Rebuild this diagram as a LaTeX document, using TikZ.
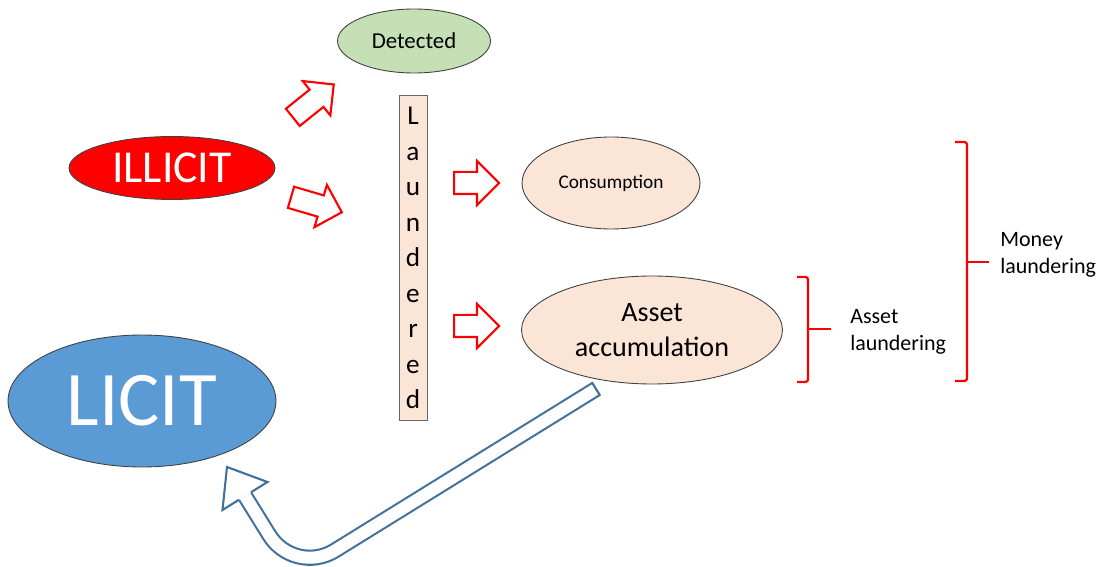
\documentclass[tikz,border=0pt]{standalone}
\usepackage{fontspec}
\setmainfont{Carlito}
\usetikzlibrary{shapes.geometric,shapes.arrows,positioning}

\definecolor{illicitred}{HTML}{FF0000}
\definecolor{licitblue}{HTML}{5B9BD5}
\definecolor{detgreen}{HTML}{C5E0B4}
\definecolor{peach}{HTML}{FBE5D6}
\definecolor{edgeblue}{HTML}{41719C}

\begin{document}
\begin{tikzpicture}[x=0.02cm,y=-0.02cm,
    oval/.style={ellipse,draw=black!75,line width=0.5pt,inner sep=0pt},
    redarrow/.style={single arrow,draw=red,line width=1.2pt,fill=white,inner xsep=0pt,inner ysep=0.2cm,
      single arrow head extend=0.22cm,anchor=tail},
    bracket/.style={red,line width=1.3pt,rounded corners=1.5pt},
    sidelabel/.style={anchor=west,align=left,inner sep=0pt,font=\fontsize{12.5}{15.5}\selectfont}]
    \useasboundingbox (0,0) rectangle (1103,567);
    % ovals
    \node[oval,fill=detgreen,minimum width=3.06cm,minimum height=1.28cm,font=\fontsize{13}{15}\selectfont] (detected) at (414,41) {Detected};
    \node[oval,fill=illicitred,text=white,minimum width=4.12cm,minimum height=1.26cm,font=\fontsize{26}{30}\selectfont] (illicit) at (172,168) {ILLICIT};
    \node[oval,fill=licitblue,text=white,minimum width=5.36cm,minimum height=2.64cm,font=\fontsize{44}{50}\selectfont] (licit) at (142,401) {LICIT};
    \node[oval,fill=peach,minimum width=3.56cm,minimum height=1.84cm,font=\fontsize{11}{13}\selectfont] (consumption) at (611,183) {Consumption};
    \node[oval,fill=peach,minimum width=5.22cm,minimum height=2.16cm,align=center,font=\fontsize{16}{19.8}\selectfont] (asset) at (652,330) {Asset\\accumulation};
    % vertical box
    \node[draw=black!60,fill=peach,minimum width=0.56cm,minimum height=6.5cm,inner sep=0pt,align=center,
      font=\fontsize{15.5}{20.2}\selectfont] (laundered) at (413,258) {L\\a\\u\\n\\d\\e\\r\\e\\d};
    % red block arrows
    \node[redarrow,rotate=38.8,minimum height=1.05cm] (todetected) at (292,118) {};
    \node[redarrow,rotate=-16.4,minimum height=1.06cm] (tolaundered) at (290,197) {};
    \node[redarrow,minimum height=0.9cm] (toconsumption) at (453,183) {};
    \node[redarrow,minimum height=0.9cm] (toasset) at (453,326) {};
    % brackets
    \draw[bracket] (797,277) -- (808,277) -- (808,382) -- (797,382);
    \draw[bracket] (808,329) -- (831,329);
    \draw[bracket] (955,142) -- (967,142) -- (967,381) -- (955,381);
    \draw[bracket] (967,262) -- (989,262);
    \node[sidelabel] (assetlabel) at (850,332) {Asset\\laundering};
    \node[sidelabel] (moneylabel) at (1000,255) {Money\\laundering};
    % blue return arrow
    \coordinate (tailc) at (596,389);
    \coordinate (bend) at (294.4,575.6);
    \coordinate (headbase) at (245,496);
    \draw[edgeblue,line width=1.2pt,double=white,double distance=0.24cm,rounded corners=0.95cm]
      (tailc) -- (bend) -- (headbase);
    \draw[edgeblue,line width=1.2pt] (591.8,382.2) -- (600.2,395.8);
    \draw[edgeblue,line width=1.2pt,fill=white] (251,492.3) -- (267.5,482) -- (227,467) -- (222.5,510) -- (239,499.7);
\end{tikzpicture}
\end{document}
